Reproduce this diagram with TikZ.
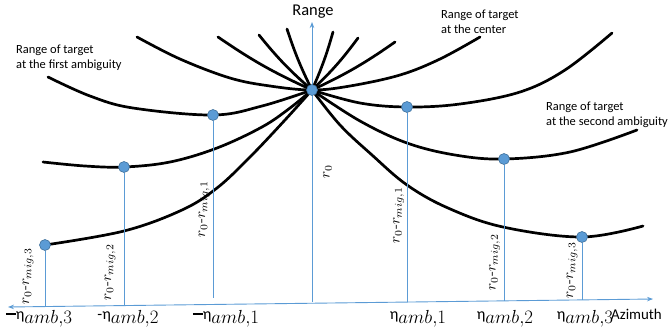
\documentclass[tikz,border=0pt]{standalone}
\usepackage{fontspec}
\newfontfamily\carl{Carlito}
\usetikzlibrary{arrows.meta}
\definecolor{axblue}{HTML}{5B9BD5}
\definecolor{dotedge}{HTML}{41719C}
\newcommand\ambsub[1]{\raisebox{-4bp}{\scalebox{1.1}{$amb{,}#1$}}}
\newcommand\migtext[1]{\scalebox{1.5}{$r_0$-$r_{mig{,}#1}$}}
\newcommand\longdash{\rule[4bp]{10bp}{2bp}}
\begin{document}
\begin{tikzpicture}[x=1bp,y=-1bp,
  curve/.style={line width=2.7bp, black, line cap=round},
  axisline/.style={axblue, line width=0.9bp},
  drop/.style={axblue, line width=0.9bp},
  vdot/.style={circle, fill=axblue, draw=dotedge, line width=0.6bp, minimum size=11bp, inner sep=0pt},
  lbl/.style={font=\carl\fontsize{12.5}{15}\selectfont, align=left, anchor=west, inner sep=0pt},
  rlbl/.style={rotate=90, inner sep=0pt},
  elbl/.style={font=\carl\fontsize{16}{18}\selectfont, inner sep=0pt, anchor=base}
]
\useasboundingbox (0,0) rectangle (669,333);
% key points
\coordinate (C) at (312,90);
\coordinate (L1) at (213,115);
\coordinate (L2) at (124,167);
\coordinate (L3) at (45,245);
\coordinate (R1) at (407,107);
\coordinate (R2) at (504,159);
\coordinate (R3) at (582,237);
\coordinate (AxL) at (8,307);
\coordinate (AxR) at (653,299);
\coordinate (AyB) at (312,302);
\coordinate (AyT) at (312,22);
\coordinate (FL3) at (45,306.5);
\coordinate (FL2) at (124,305.6);
\coordinate (FL1) at (213,298);
\coordinate (FR1) at (407,302);
\coordinate (FR2) at (504,300.8);
\coordinate (FR3) at (582,299.9);
\coordinate (UL1) at (218,37);
\coordinate (UL2) at (259,35);
\coordinate (UL3) at (287,29);
\coordinate (UR1) at (395,42);
\coordinate (UR2) at (358,38);
\coordinate (UR3) at (333,32);

% rotated labels
\node[rlbl] (m3l) at (28,276) {\migtext{3}};
\node[rlbl] (m2l) at (110,272) {\migtext{2}};
\node[rlbl] (m1l) at (204,209) {\migtext{1}};
\node[rlbl] (r0l) at (327.5,171.5) {\scalebox{1.5}{$r_0$}};
\node[rlbl] (m1r) at (398.5,215) {\migtext{1}};
\node[rlbl] (m2r) at (494.5,262) {\migtext{2}};
\node[rlbl] (m3r) at (572,270) {\migtext{3}};

% black range curves
\draw[curve] plot[smooth,tension=0.6] coordinates {(137,37) (180,59) (230,78) (270,86) (312,90) (350,86) (400,75) (440,59) (480,37)};
\draw[curve] plot[smooth,tension=0.6] coordinates {(48,77) (90,96) (133,108) (213,115) (262,106) (312,90)};
\draw[curve] plot[smooth,tension=0.6] coordinates {(43,162) (85,166) (124,167) (170,162) (217,148) (262,127) (290,108) (312,90)};
\draw[curve] plot[smooth,tension=0.6] coordinates {(45,245) (124,231) (182,210) (217,188) (250,157) (285,120) (312,90)};
\draw[curve] plot[smooth,tension=0.6] coordinates {(312,90) (360,103) (407,107) (460,104) (520,92) (565,70) (612,33)};
\draw[curve] plot[smooth,tension=0.6] coordinates {(312,90) (360,121) (407,143) (455,155) (504,159) (570,152) (637,130)};
\draw[curve] plot[smooth,tension=0.6] coordinates {(312,90) (340,125) (372,155) (407,185) (448,208) (503,227) (582,237) (643,226)};
\draw[curve] (C) to[bend left=5] (UL1);
\draw[curve] (C) to[bend left=5] (UL2);
\draw[curve] (C) to[bend left=4] (UL3);
\draw[curve] (C) to[bend right=5] (UR1);
\draw[curve] (C) to[bend right=5] (UR2);
\draw[curve] (C) to[bend right=4] (UR3);

% axes
\draw[axisline,{Stealth[length=6bp,width=4.5bp]}-{Stealth[length=6bp,width=4.5bp]}] (AxL) -- (AxR);
\draw[axisline,-{Stealth[length=6bp,width=4.5bp]}] (AyB) -- (AyT);

% dots
\node[vdot] (dC) at (C) {};
\node[vdot] (dL1) at (L1) {};
\node[vdot] (dL2) at (L2) {};
\node[vdot] (dL3) at (L3) {};
\node[vdot] (dR1) at (R1) {};
\node[vdot] (dR2) at (R2) {};
\node[vdot] (dR3) at (R3) {};

% drop lines
\draw[drop] (dL1) -- (FL1);
\draw[drop] (dL2) -- (FL2);
\draw[drop] (dL3) -- (FL3);
\draw[drop] (dR1) -- (FR1);
\draw[drop] (dR2) -- (FR2);
\draw[drop] (dR3) -- (FR3);

% text labels
\node[font=\carl\fontsize{16.5}{19}\selectfont, inner sep=0pt] (rangelbl) at (313,12) {Range};
\node[lbl] (lc) at (441,21.5) {Range of target\\at the center};
\node[lbl] (lf) at (16,57.5) {Range of target\\at the first ambiguity};
\node[lbl] (ls) at (546,114.5) {Range of target\\at the second ambiguity};
\node[font=\carl\fontsize{15}{18}\selectfont, anchor=base west, inner sep=0pt] (az) at (611,319) {Azimuth};

\node[elbl] (e3l) at (39,319) {\longdash η\ambsub{3}};
\node[elbl] (e2l) at (128,319) {-η\ambsub{2}};
\node[elbl] (e1l) at (226,319) {\longdash η\ambsub{1}};
\node[elbl] (e1r) at (418,319) {η\ambsub{1}};
\node[elbl] (e2r) at (505,319) {η\ambsub{2}};
\node[elbl] (e3r) at (585,319) {η\ambsub{3}};
\end{tikzpicture}
\end{document}
